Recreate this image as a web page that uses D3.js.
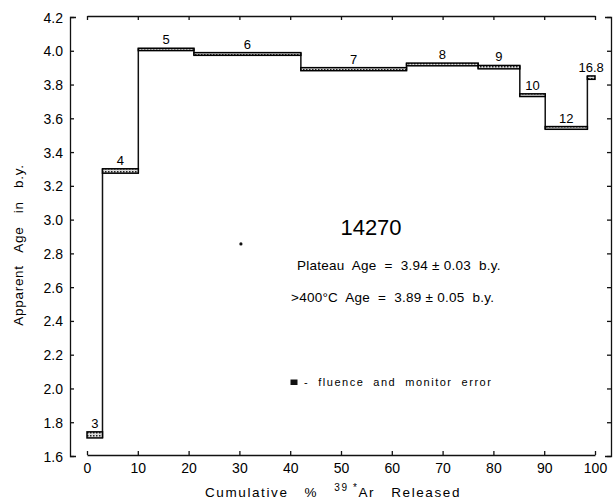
<!DOCTYPE html>
<html>
<head>
<meta charset="utf-8">
<script src="https://cdn.jsdelivr.net/npm/d3@7"></script>
<style>
  body { margin: 0; background: #fff; }
  svg text { font-family: "Liberation Sans", "DejaVu Sans", sans-serif; fill: #000; }
  .axis path, .axis line { stroke: #111; stroke-width: 1.3; }
</style>
</head>
<body>
<svg width="616" height="502"></svg>
<script>
// heating steps (temperature step labels), cumulative % 39Ar at step end, apparent age, box half height
const stepLabels = ["3", "4", "5", "6", "7", "8", "9", "10", "12", "16.8"];
const stepEnds = [3.05, 10.1, 21.05, 42.1, 62.9, 77.0, 85.2, 90.2, 98.5, 100];
const stepAges = [1.725, 3.288, 4.008, 3.981, 3.891, 3.919, 3.903, 3.737, 3.543, 3.841];
const stepErrs = [0.018, 0.013, 0.007, 0.008, 0.009, 0.008, 0.01, 0.008, 0.008, 0.01];

const xTicks = [0, 10, 20, 30, 40, 50, 60, 70, 80, 90, 100];
const yTicks = [1.6, 1.8, 2.0, 2.2, 2.4, 2.6, 2.8, 3.0, 3.2, 3.4, 3.6, 3.8, 4.0, 4.2];

const svg = d3.select("svg");
const xScale = d3.scaleLinear().domain([0, 100]).range([87, 595]);
const yScale = d3.scaleLinear().domain([1.6, 4.2]).range([456, 17]);

// hatch pattern for the error boxes
const defs = svg.append("defs");
const pat = defs.append("pattern")
  .attr("id", "dots")
  .attr("patternUnits", "userSpaceOnUse")
  .attr("width", 3).attr("height", 3);
pat.append("rect").attr("width", 3).attr("height", 3).attr("fill", "#ddd");
pat.append("rect").attr("width", 1.5).attr("height", 1.5).attr("fill", "#222");

// left spine with labels
const yAxis = svg.append("g")
  .attr("class", "axis")
  .attr("transform", "translate(70,0)")
  .call(d3.axisLeft(yScale).tickValues(yTicks).tickSizeInner(-4).tickSizeOuter(-6)
    .tickPadding(7).tickFormat(d3.format(".1f")));
yAxis.selectAll("text").style("font-size", "14px").attr("dy", "0.36em");

// right spine
svg.append("g")
  .attr("class", "axis")
  .attr("transform", "translate(611,0)")
  .call(d3.axisRight(yScale).tickValues(yTicks).tickSizeInner(-4).tickSizeOuter(-6).tickFormat(""));

// bottom spine
const xAxis = svg.append("g")
  .attr("class", "axis")
  .attr("transform", "translate(0,455)")
  .call(d3.axisBottom(xScale).tickValues(xTicks).tickSizeInner(-4).tickSizeOuter(0)
    .tickPadding(8).tickFormat(d3.format("d")));
xAxis.selectAll("text").style("font-size", "14px");

// top spine
svg.append("g")
  .attr("class", "axis")
  .attr("transform", "translate(0,16)")
  .call(d3.axisTop(xScale).tickValues(xTicks).tickSizeInner(-4).tickSizeOuter(0).tickFormat(""));

svg.selectAll(".axis path.domain").attr("fill", "none");

// build steps
const steps = stepLabels.map((s, i) => ({
  label: s,
  x0: i == 0 ? 0 : stepEnds[i - 1],
  x1: stepEnds[i],
  age: stepAges[i],
  err: stepErrs[i],
}));

const plot = svg.append("g");

// vertical connectors between consecutive steps
steps.slice(1).forEach((d, i) => {
  const prev = steps[i];
  const lo = Math.min(prev.age - prev.err, d.age - d.err);
  const hi = Math.max(prev.age + prev.err, d.age + d.err);
  plot.append("line")
    .attr("x1", xScale(d.x0)).attr("x2", xScale(d.x0))
    .attr("y1", yScale(lo)).attr("y2", yScale(hi))
    .attr("stroke", "#111").attr("stroke-width", 1.5);
});

plot.selectAll("rect.step")
  .data(steps)
  .enter()
  .append("rect")
  .attr("class", "step")
  .attr("x", (d) => xScale(d.x0))
  .attr("width", (d) => xScale(d.x1) - xScale(d.x0))
  .attr("y", (d) => yScale(d.age + d.err))
  .attr("height", (d) => yScale(d.age - d.err) - yScale(d.age + d.err))
  .attr("fill", "url(#dots)")
  .attr("stroke", "#000")
  .attr("stroke-width", 1.5);

plot.selectAll("text.step")
  .data(steps)
  .enter()
  .append("text")
  .attr("class", "step")
  .attr("x", (d) => xScale((d.x0 + d.x1) / 2))
  .attr("y", (d) => yScale(d.age + d.err) - 4)
  .attr("text-anchor", "middle")
  .style("font-size", "13px")
  .text((d) => d.label);

// stray dot
svg.append("circle")
  .attr("cx", xScale(30.3)).attr("cy", yScale(2.856))
  .attr("r", 1.6).attr("fill", "#111");

// annotations
svg.append("text")
  .attr("x", 371).attr("y", 235)
  .attr("text-anchor", "middle")
  .style("font-size", "22px")
  .text("14270");

svg.append("text")
  .attr("x", 297).attr("y", 270)
  .style("font-size", "13.5px")
  .style("letter-spacing", "0.25px")
  .style("white-space", "pre")
  .text("Plateau  Age  =  3.94 ± 0.03  b.y.");

svg.append("text")
  .attr("x", 291).attr("y", 302)
  .style("font-size", "13.5px")
  .style("letter-spacing", "0.25px")
  .style("white-space", "pre")
  .text(">400°C  Age  =  3.89 ± 0.05  b.y.");

svg.append("rect")
  .attr("x", 290.5).attr("y", 379.5)
  .attr("width", 7).attr("height", 5.5)
  .attr("fill", "#111");

svg.append("text")
  .attr("x", 304).attr("y", 386)
  .style("font-size", "11px")
  .style("letter-spacing", "1.5px")
  .style("white-space", "pre")
  .text("-  fluence  and  monitor  error");

// axis titles
svg.append("text")
  .attr("transform", "translate(23,245) rotate(-90)")
  .attr("text-anchor", "middle")
  .style("font-size", "13.5px")
  .style("letter-spacing", "0.7px")
  .style("white-space", "pre")
  .text("Apparent   Age   in   b.y.");

const xt = svg.append("text")
  .attr("x", 333).attr("y", 497)
  .attr("text-anchor", "middle")
  .style("font-size", "13.5px")
  .style("white-space", "pre")
  .style("letter-spacing", "1.6px");
xt.append("tspan").text("Cumulative   %   ");
xt.append("tspan").attr("dy", -6).style("font-size", "10px").text("39 *");
xt.append("tspan").attr("dy", 6).text("Ar   Released");
</script>
</body>
</html>
